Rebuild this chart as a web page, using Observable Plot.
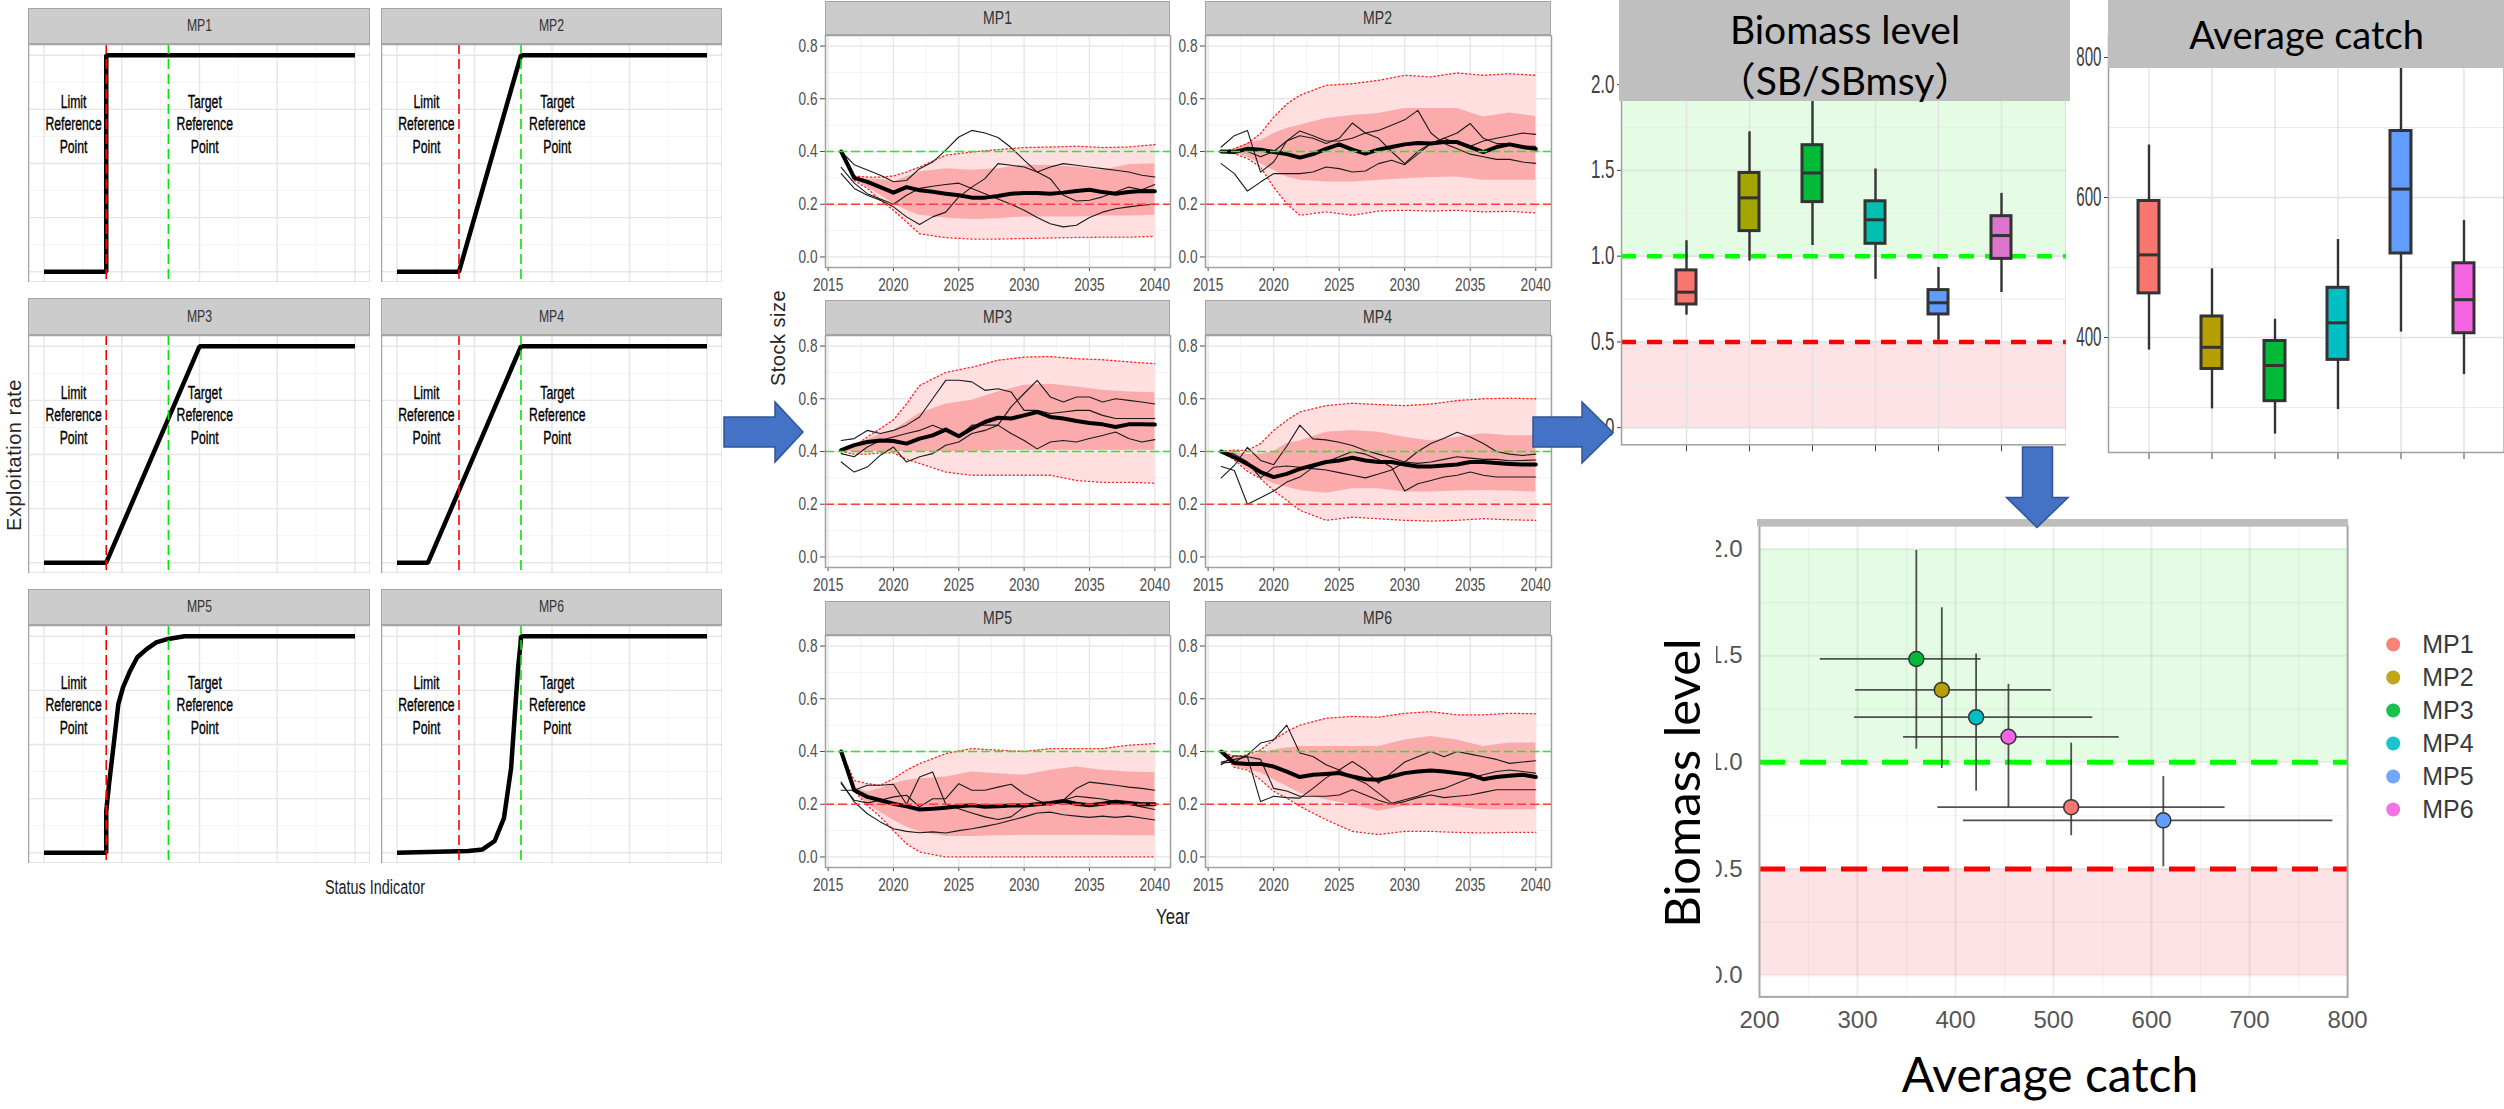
<!DOCTYPE html>
<html>
<head>
<meta charset="utf-8">
<script src="https://cdn.jsdelivr.net/npm/d3@7"></script>
<script src="https://cdn.jsdelivr.net/npm/@observablehq/plot@0.6"></script>
<style>
html,body{margin:0;padding:0;background:#fff;}
#root{position:relative;width:2504px;height:1109px;overflow:hidden;background:#fff;}
</style>
</head>
<body>
<div id="root"></div>
<script>
// ================= DATA =================
const MPS = ["MP1","MP2","MP3","MP4","MP5","MP6"];

// --- harvest control rules (status indicator -> exploitation rate)
const limitRef = 0.2, targetRef = 0.4;
const hcr1X = [0, 0.2, 0.2, 1],            hcr1Y = [0, 0, 1, 1];
const hcr2X = [0, 0.2, 0.4, 1],            hcr2Y = [0, 0, 1, 1];
const hcr3X = [0, 0.2, 0.5, 1],            hcr3Y = [0, 0, 1, 1];
const hcr4X = [0, 0.1, 0.4, 1],            hcr4Y = [0, 0, 1, 1];
const hcr5X = [0, 0.2, 0.2, 0.209, 0.224, 0.239, 0.254, 0.277, 0.30, 0.33, 0.361, 0.399, 0.452, 1];
const hcr5Y = [0, 0, 0.19, 0.316, 0.50, 0.687, 0.764, 0.841, 0.903, 0.941, 0.972, 0.988, 1, 1];
const hcr6X = [0, 0.23, 0.276, 0.315, 0.345, 0.368, 0.383, 0.391, 0.398, 0.40, 1];
const hcr6Y = [0, 0.008, 0.015, 0.054, 0.16, 0.39, 0.70, 0.86, 0.96, 1, 1];
const hcrLabels = ["Limit\nReference\nPoint", "Target\nReference\nPoint"];
const hcrLabelX = [0.095, 0.517];
const hcrLabelY = 0.686;
const hcrGridMajor = [0, 0.25, 0.5, 0.75, 1];
const hcrGridMinor = [0.125, 0.375, 0.625, 0.875];

// --- stock size projections
const years = [2016,2017,2018,2019,2020,2021,2022,2023,2024,2025,2026,2027,2028,2029,2030,2031,2032,2033,2034,2035,2036,2037,2038,2039,2040];
const bandYears = [2016,2017,2018,2019,2020,2021,2022,2024,2026,2028,2030,2032,2034,2036,2038,2040];
const stockXTicks = [2015,2020,2025,2030,2035,2040];
const stockXMinor = [2017.5,2022.5,2027.5,2032.5,2037.5];
const stockYTicks = [0,0.2,0.4,0.6,0.8];
const stockYMinor = [0.1,0.3,0.5,0.7];
const stockTarget = 0.4, stockLimit = 0.2;

const mp1Median  = [.40,.30,.285,.265,.244,.265,.253,.247,.24,.234,.225,.225,.231,.24,.243,.243,.24,.244,.25,.255,.246,.24,.246,.25,.249];
const mp1OuterHi = [.40,.307,.303,.303,.307,.322,.341,.386,.398,.407,.415,.417,.42,.415,.417,.426];
const mp1OuterLo = [.40,.29,.26,.215,.177,.133,.088,.073,.068,.068,.07,.072,.074,.075,.075,.078];
const mp1InnerHi = [.40,.305,.295,.295,.284,.303,.322,.335,.329,.335,.348,.347,.34,.329,.35,.354];
const mp1InnerLo = [.40,.297,.265,.234,.202,.177,.158,.148,.142,.145,.152,.152,.152,.155,.155,.158];
const mp1Worm1 = [.40,.35,.33,.31,.285,.29,.335,.36,.405,.455,.48,.47,.453,.415,.367,.322,.297,.234,.212,.215,.228,.246,.265,.255,.275];
const mp1Worm2 = [.34,.28,.24,.22,.20,.234,.26,.268,.275,.28,.26,.24,.22,.20,.177,.15,.126,.114,.12,.15,.17,.183,.19,.196,.20];
const mp1Worm3 = [.316,.26,.234,.215,.19,.152,.123,.152,.17,.228,.265,.297,.354,.348,.341,.322,.341,.354,.348,.341,.335,.329,.322,.31,.303];

const mp2Median  = [.40,.398,.41,.407,.398,.39,.377,.39,.41,.427,.407,.392,.407,.417,.427,.432,.43,.436,.436,.417,.398,.417,.427,.417,.41];
const mp2OuterHi = [.40,.41,.43,.468,.53,.58,.613,.651,.657,.67,.689,.683,.698,.689,.695,.689];
const mp2OuterLo = [.40,.392,.373,.341,.265,.202,.158,.171,.158,.174,.177,.174,.177,.171,.173,.167];
const mp2InnerHi = [.40,.41,.43,.442,.468,.487,.50,.525,.537,.544,.563,.563,.563,.531,.546,.533];
const mp2InnerLo = [.40,.395,.379,.354,.329,.303,.291,.284,.284,.291,.297,.301,.303,.291,.291,.291];
const mp2Worm1 = [.417,.46,.48,.322,.36,.44,.478,.46,.44,.44,.45,.47,.48,.50,.52,.556,.47,.43,.41,.39,.38,.37,.37,.36,.355];
const mp2Worm2 = [.354,.316,.25,.284,.316,.316,.316,.322,.341,.335,.322,.326,.354,.367,.35,.39,.43,.45,.43,.42,.44,.45,.46,.47,.465];
const mp2Worm3 = [.40,.40,.40,.38,.40,.44,.46,.45,.43,.45,.508,.47,.45,.40,.354,.40,.43,.45,.47,.506,.45,.43,.43,.42,.42];

const mp3Median  = [.405,.424,.436,.442,.44,.43,.449,.461,.483,.458,.487,.512,.528,.525,.537,.55,.531,.525,.516,.508,.503,.493,.503,.503,.502];
const mp3OuterHi = [.405,.42,.455,.487,.52,.58,.65,.70,.72,.746,.758,.76,.752,.748,.74,.733];
const mp3OuterLo = [.40,.39,.39,.395,.395,.37,.355,.322,.31,.31,.31,.31,.29,.283,.283,.28];
const mp3InnerHi = [.405,.425,.445,.465,.48,.512,.544,.58,.594,.626,.651,.655,.645,.632,.626,.623];
const mp3InnerLo = [.40,.40,.40,.40,.40,.40,.40,.40,.40,.405,.405,.405,.405,.405,.405,.405];
const mp3Worm1 = [.442,.449,.48,.468,.48,.50,.531,.60,.67,.67,.664,.632,.638,.626,.556,.556,.544,.55,.556,.556,.537,.525,.525,.525,.525];
const mp3Worm2 = [.36,.322,.341,.386,.417,.36,.38,.392,.424,.436,.468,.48,.50,.569,.62,.67,.607,.588,.607,.607,.588,.60,.594,.588,.58];
const mp3Worm3 = [.392,.38,.417,.442,.455,.468,.48,.50,.48,.455,.50,.50,.50,.468,.442,.41,.436,.442,.436,.449,.461,.474,.449,.436,.445];

const mp4Median  = [.40,.378,.353,.322,.303,.315,.334,.347,.36,.366,.376,.366,.36,.36,.351,.343,.343,.347,.351,.36,.36,.356,.353,.351,.351];
const mp4OuterHi = [.40,.405,.404,.43,.48,.518,.55,.574,.583,.578,.574,.58,.593,.60,.602,.60];
const mp4OuterLo = [.40,.368,.325,.297,.252,.215,.177,.139,.151,.145,.139,.136,.139,.145,.141,.139];
const mp4InnerHi = [.40,.395,.39,.39,.40,.43,.44,.473,.48,.473,.454,.44,.454,.467,.46,.46];
const mp4InnerLo = [.40,.372,.334,.303,.278,.265,.252,.242,.259,.259,.246,.246,.25,.252,.25,.246];
const mp4Worm1 = [.30,.347,.416,.366,.35,.42,.50,.448,.444,.435,.423,.404,.39,.375,.36,.355,.36,.37,.38,.375,.37,.37,.365,.366,.368];
const mp4Worm2 = [.343,.328,.20,.225,.25,.284,.303,.34,.36,.38,.40,.39,.37,.34,.25,.278,.29,.303,.31,.322,.31,.303,.303,.303,.303];
const mp4Worm3 = [.40,.39,.36,.30,.34,.345,.34,.335,.33,.32,.31,.30,.315,.33,.36,.40,.43,.45,.473,.455,.43,.40,.39,.385,.39];

const mp5Median  = [.40,.253,.228,.215,.202,.192,.18,.183,.187,.192,.196,.19,.192,.195,.195,.20,.205,.212,.202,.196,.202,.209,.205,.20,.20];
const mp5OuterHi = [.40,.29,.278,.272,.297,.329,.354,.392,.411,.405,.40,.411,.411,.411,.424,.43];
const mp5OuterLo = [.40,.25,.195,.152,.10,.05,.019,0,0,0,0,0,0,0,0,0];
const mp5InnerHi = [.40,.265,.246,.26,.278,.29,.297,.303,.322,.316,.31,.329,.341,.329,.322,.319];
const mp5InnerLo = [.40,.252,.20,.17,.139,.114,.095,.078,.078,.08,.082,.082,.082,.082,.08,.08];
const mp5Worm1 = [.284,.209,.164,.133,.107,.097,.092,.095,.091,.10,.107,.116,.126,.139,.152,.167,.17,.16,.155,.15,.155,.15,.155,.148,.14];
const mp5Worm2 = [.253,.253,.272,.272,.276,.20,.303,.322,.20,.183,.167,.152,.142,.152,.19,.196,.20,.215,.23,.225,.22,.21,.20,.19,.18];
const mp5Worm3 = [.278,.215,.205,.215,.228,.234,.19,.221,.221,.278,.253,.253,.265,.276,.24,.215,.196,.215,.26,.284,.278,.272,.265,.26,.253];

const mp6Median  = [.40,.356,.353,.353,.343,.324,.303,.312,.315,.318,.305,.295,.293,.305,.318,.324,.328,.324,.318,.312,.295,.303,.308,.312,.303];
const mp6OuterHi = [.40,.381,.387,.406,.444,.476,.50,.526,.533,.53,.545,.551,.539,.539,.545,.543];
const mp6OuterLo = [.40,.34,.33,.293,.249,.223,.192,.141,.097,.085,.097,.097,.093,.091,.093,.093];
const mp6InnerHi = [.40,.378,.381,.394,.406,.413,.419,.419,.419,.419,.444,.457,.444,.419,.432,.432];
const mp6InnerLo = [.40,.343,.333,.318,.293,.268,.242,.217,.198,.173,.192,.198,.189,.179,.179,.179];
const mp6Worm1 = [.356,.36,.387,.432,.444,.50,.394,.381,.35,.33,.30,.28,.242,.204,.217,.23,.249,.26,.28,.30,.312,.324,.33,.324,.318];
const mp6Worm2 = [.35,.384,.38,.21,.23,.225,.223,.26,.30,.33,.362,.33,.28,.32,.36,.38,.40,.38,.40,.39,.38,.37,.355,.36,.365];
const mp6Worm3 = [.36,.37,.38,.37,.26,.25,.23,.23,.23,.235,.255,.235,.215,.20,.21,.225,.235,.225,.23,.235,.245,.255,.255,.255,.255];

// --- performance statistics (whisker low, Q1, median, Q3, whisker high)
const biomassLo  = [0.656, 0.971, 1.062, 0.865, 0.510, 0.788];
const biomassQ1  = [0.718, 1.146, 1.315, 1.072, 0.660, 0.984];
const biomassMed = [0.790, 1.340, 1.485, 1.212, 0.728, 1.120];
const biomassQ3  = [0.917, 1.485, 1.647, 1.320, 0.802, 1.233];
const biomassHi  = [1.090, 1.725, 1.994, 1.508, 0.934, 1.366];
const catchLo  = [382, 298, 262, 297, 408, 347];
const catchQ1  = [463, 355, 309, 368, 520, 406];
const catchMed = [518, 386, 360, 421, 612, 454];
const catchQ3  = [595, 430, 395, 471, 695, 506];
const catchHi  = [675, 498, 426, 540, 785, 567];
const biomassTarget = 1.0, biomassLimit = 0.5;

const mpColors      = ["#F8766D","#B79F00","#00BA38","#00BFC4","#619CFF","#F564E3"];
const biomassColors = ["#F8766D","#A3A500","#00BA38","#00BFB0","#619CFF","#DC74CC"];

// ================= HELPERS =================
const ARIAL  = '"Liberation Sans",Arial,sans-serif';
const CAL    = 'Lato,"Noto Sans CJK JP",sans-serif';
const root = document.getElementById("root");

function put(el, left, top) {
  el.style.position = "absolute";
  el.style.left = left + "px";
  el.style.top = top + "px";
  root.appendChild(el);
  return el;
}
function box(left, top, w, h, css) {
  const d = document.createElement("div");
  Object.assign(d.style, css || {});
  d.style.width = w + "px"; d.style.height = h + "px";
  return put(d, left, top);
}
function label(text, cx, cy, css, rotate, sx) {
  const d = document.createElement("div");
  d.textContent = text;
  Object.assign(d.style, {whiteSpace: "pre", lineHeight: "1",
    transform: "translate(-50%,-50%)" + (rotate ? ` rotate(${rotate}deg)` : "") + (sx ? ` scaleX(${sx})` : "")}, css);
  return put(d, cx, cy);
}
function strip(x0, x1, y0, y1, text, size, sx) {
  const d = box(x0, y0, x1 - x0, y1 - y0, {
    background: "#cccccc", border: "1px solid #a5a5a5", boxSizing: "border-box",
    display: "flex", alignItems: "center", justifyContent: "center",
    fontFamily: ARIAL, fontSize: size + "px", color: "#333"});
  const s = document.createElement("span");
  s.textContent = text;
  s.style.display = "inline-block";
  s.style.transform = `scaleX(${sx})`;
  d.appendChild(s);
  return d;
}
// horizontally condense every text of a Plot svg about its own x anchor (narrow-font look)
function condense(svg, s) {
  svg.querySelectorAll("text").forEach(t => {
    const xv = parseFloat(t.getAttribute("x"));
    const cx = isFinite(xv) ? xv : 0;
    const tr = t.getAttribute("transform") || "";
    t.setAttribute("transform", `${tr} translate(${cx},0) scale(${s},1) translate(${-cx},0)`.trim());
  });
  return svg;
}

// ================= LEFT: HCR facets =================
const hcrXs = [hcr1X, hcr2X, hcr3X, hcr4X, hcr5X, hcr6X];
const hcrYs = [hcr1Y, hcr2Y, hcr3Y, hcr4Y, hcr5Y, hcr6Y];
const hcrCols = [[28, 370], [381, 722]];
const hcrRows = [[44, 282], [335, 573], [625, 863]];
const hcrStrips = [[8, 44], [298, 335], [589, 625]];

MPS.forEach((mp, k) => {
  const [x0, x1] = hcrCols[k % 2];
  const [y0, y1] = hcrRows[Math.floor(k / 2)];
  const [s0, s1] = hcrStrips[Math.floor(k / 2)];
  const pts = hcrXs[k].map((x, i) => ({x, y: hcrYs[k][i]}));
  const svg = Plot.plot({
    width: x1 - x0, height: y1 - y0, margin: 0,
    x: {domain: [-0.05, 1.05], axis: null},
    y: {domain: [-0.05, 1.05], axis: null},
    style: {fontFamily: ARIAL, background: "white"},
    marks: [
      Plot.ruleX(hcrGridMinor, {stroke: "#f4f4f4", strokeWidth: 1}),
      Plot.ruleY(hcrGridMinor, {stroke: "#f4f4f4", strokeWidth: 1}),
      Plot.ruleX(hcrGridMajor, {stroke: "#e6e6e6", strokeWidth: 1.4}),
      Plot.ruleY(hcrGridMajor, {stroke: "#e6e6e6", strokeWidth: 1.4}),
      Plot.line(pts, {x: "x", y: "y", stroke: "#000", strokeWidth: 4.5, strokeLinecap: "butt", strokeLinejoin: "miter"}),
      Plot.ruleX([limitRef], {stroke: "#ff0000", strokeWidth: 1.6, strokeDasharray: "10,5"}),
      Plot.ruleX([targetRef], {stroke: "#00e600", strokeWidth: 1.6, strokeDasharray: "10,5"}),
      Plot.text(hcrLabels, {x: (d, i) => hcrLabelX[i], y: () => hcrLabelY, text: d => d,
        lineHeight: 1.25, fontSize: 18, fill: "#000", stroke: "#000", strokeWidth: 0.35}),
      Plot.frame({stroke: "#a3a3a3", strokeWidth: 1.5})
    ]
  });
  put(condense(svg, 0.68), x0, y0);
  strip(x0, x1, s0, s1, mp, 17, 0.72);
});
label("Exploitation rate", 14, 455, {fontFamily: ARIAL, fontSize: "20px", color: "#262626", letterSpacing: "0.5px"}, -90);
label("Status Indicator", 375, 887, {fontFamily: ARIAL, fontSize: "20px", color: "#1a1a1a"}, 0, 0.72);

// ================= MIDDLE: stock size facets =================
const stockSeries = [
  {median: mp1Median, oHi: mp1OuterHi, oLo: mp1OuterLo, iHi: mp1InnerHi, iLo: mp1InnerLo, worms: [mp1Worm1, mp1Worm2, mp1Worm3]},
  {median: mp2Median, oHi: mp2OuterHi, oLo: mp2OuterLo, iHi: mp2InnerHi, iLo: mp2InnerLo, worms: [mp2Worm1, mp2Worm2, mp2Worm3]},
  {median: mp3Median, oHi: mp3OuterHi, oLo: mp3OuterLo, iHi: mp3InnerHi, iLo: mp3InnerLo, worms: [mp3Worm1, mp3Worm2, mp3Worm3]},
  {median: mp4Median, oHi: mp4OuterHi, oLo: mp4OuterLo, iHi: mp4InnerHi, iLo: mp4InnerLo, worms: [mp4Worm1, mp4Worm2, mp4Worm3]},
  {median: mp5Median, oHi: mp5OuterHi, oLo: mp5OuterLo, iHi: mp5InnerHi, iLo: mp5InnerLo, worms: [mp5Worm1, mp5Worm2, mp5Worm3]},
  {median: mp6Median, oHi: mp6OuterHi, oLo: mp6OuterLo, iHi: mp6InnerHi, iLo: mp6InnerLo, worms: [mp6Worm1, mp6Worm2, mp6Worm3]}
];
const stCols = [[825, 1170], [1205, 1551]];
const stRows = [[35, 267], [335, 567], [635, 867]];
const stStrips = [[1, 35], [300, 335], [601, 635]];

MPS.forEach((mp, k) => {
  const s = stockSeries[k];
  const [x0, x1] = stCols[k % 2];
  const [y0, y1] = stRows[Math.floor(k / 2)];
  const [s0, s1] = stStrips[Math.floor(k / 2)];
  const band = bandYears.map((year, i) => ({year, oLo: s.oLo[i], oHi: s.oHi[i], iLo: s.iLo[i], iHi: s.iHi[i]}));
  const med = years.map((year, i) => ({year, v: s.median[i]}));
  const worms = s.worms.flatMap((w, j) => years.map((year, i) => ({year, v: w[i], run: j})));
  const ML = 45, MB = 32, MR = 22;
  const svg = Plot.plot({
    width: x1 - x0 + ML + MR, height: y1 - y0 + MB,
    marginLeft: ML, marginRight: MR, marginTop: 0, marginBottom: MB,
    style: {fontFamily: ARIAL, fontSize: "18px", color: "#4d4d4d", background: "transparent"},
    x: {domain: [2014.8, 2041.2], ticks: stockXTicks, tickFormat: d => String(d), tickSize: 4, tickPadding: 7, label: null},
    y: {domain: [-0.04, 0.84], ticks: stockYTicks, tickFormat: d => d.toFixed(1), tickSize: 5, tickPadding: 3, label: null},
    marks: [
      Plot.frame({fill: "white"}),
      Plot.ruleX(stockXMinor, {stroke: "#f3f3f3", strokeWidth: 1}),
      Plot.ruleY(stockYMinor, {stroke: "#f3f3f3", strokeWidth: 1}),
      Plot.ruleX(stockXTicks, {stroke: "#e5e5e5", strokeWidth: 1.3}),
      Plot.ruleY(stockYTicks, {stroke: "#e5e5e5", strokeWidth: 1.3}),
      Plot.areaY(band, {x: "year", y1: "oLo", y2: "oHi", fill: "#ffdfdf"}),
      Plot.areaY(band, {x: "year", y1: "iLo", y2: "iHi", fill: "#fbabab"}),
      Plot.lineY(band, {x: "year", y: "oHi", stroke: "#ff2020", strokeWidth: 1.3, strokeDasharray: "1.2,2.8"}),
      Plot.lineY(band, {x: "year", y: "oLo", stroke: "#ff2020", strokeWidth: 1.3, strokeDasharray: "1.2,2.8"}),
      Plot.line(worms, {x: "year", y: "v", z: "run", stroke: "#1a1a1a", strokeWidth: 1.1}),
      Plot.line(med, {x: "year", y: "v", stroke: "#000", strokeWidth: 4}),
      Plot.ruleY([stockTarget], {stroke: "#22ee22", strokeWidth: 1.6, strokeDasharray: "9,4"}),
      Plot.ruleY([stockLimit], {stroke: "#ff3a3a", strokeWidth: 1.6, strokeDasharray: "9,4"}),
      Plot.frame({stroke: "#a0a0a0", strokeWidth: 1.5})
    ]
  });
  put(condense(svg, 0.76), x0 - ML, y0);
  strip(x0, x1, s0, s1, mp, 18, 0.78);
});
label("Stock size", 778, 338, {fontFamily: ARIAL, fontSize: "20px", color: "#262626", letterSpacing: "0.5px"}, -90);
label("Year", 1173, 917, {fontFamily: ARIAL, fontSize: "22px", color: "#1a1a1a"}, 0, 0.76);

// ================= RIGHT TOP: boxplots =================
const biomassStats = MPS.map((mp, i) => ({mp, lo: biomassLo[i], q1: biomassQ1[i], med: biomassMed[i], q3: biomassQ3[i], hi: biomassHi[i]}));
const catchStats = MPS.map((mp, i) => ({mp, lo: catchLo[i], q1: catchQ1[i], med: catchMed[i], q3: catchQ3[i], hi: catchHi[i]}));

function boxPlot(stats, colors, o) {
  const svg = Plot.plot({
    width: o.x1 - o.x0 + o.ML, height: o.y1 - o.y0 + o.MB,
    marginLeft: o.ML, marginRight: 0, marginTop: 0, marginBottom: o.MB,
    style: {fontFamily: ARIAL, fontSize: o.fs + "px", color: "#404040", background: "transparent"},
    x: {type: "band", domain: MPS, paddingInner: o.pi, paddingOuter: o.po, tickSize: 7, tickFormat: () => "", label: null},
    y: {domain: o.yDomain, ticks: o.yTicks, tickFormat: o.fmt, tickSize: 4, tickPadding: 3, label: null},
    color: {domain: MPS, range: colors},
    marks: [
      Plot.frame({fill: "white"}),
      ...(o.bands || []),
      Plot.ruleY(o.yMinor, {stroke: "#ececec", strokeWidth: 1.2}),
      Plot.ruleY(o.yTicks, {stroke: "#e2e2e2", strokeWidth: 1.6}),
      Plot.ruleX(MPS, {x: d => d, stroke: "#e2e2e2", strokeWidth: 1.4}),
      ...(o.refs || []),
      Plot.ruleX(stats, {x: "mp", y1: "lo", y2: "hi", stroke: "#333", strokeWidth: 2.4}),
      Plot.barY(stats, {x: "mp", y1: "q1", y2: "q3", fill: "mp", stroke: "#333", strokeWidth: 3}),
      Plot.tickY(stats, {x: "mp", y: "med", stroke: "#333", strokeWidth: 3}),
      Plot.frame({stroke: "#a0a0a0", strokeWidth: 1.5})
    ]
  });
  put(condense(svg, o.sx), o.x0 - o.ML, o.y0);
}

boxPlot(biomassStats, biomassColors, {
  x0: 1621, x1: 2066, y0: 66.5, y1: 443.8, ML: 50, MB: 12, pi: 0.677, po: 0.84, fs: 25, sx: 0.68,
  yDomain: [-0.1, 2.1], yTicks: [0, 0.5, 1, 1.5, 2], yMinor: [0.25, 0.75, 1.25, 1.75], fmt: d => d.toFixed(1),
  bands: [
    Plot.barY([{a: biomassTarget, b: 2.1}], {y1: "a", y2: "b", fill: "#e3fce3"}),
    Plot.barY([{a: 0, b: biomassLimit}], {y1: "a", y2: "b", fill: "#fde3e5"})
  ],
  refs: [
    Plot.ruleY([biomassTarget], {stroke: "#00ff00", strokeWidth: 4.5, strokeDasharray: "15,11"}),
    Plot.ruleY([biomassLimit], {stroke: "#ff0000", strokeWidth: 4.5, strokeDasharray: "15,11"})
  ]
});
boxPlot(catchStats, mpColors, {
  x0: 2108.3, x1: 2503.9, y0: 35.7, y1: 451.7, ML: 50, MB: 12, pi: 0.67, po: 0.435, fs: 27, sx: 0.56,
  yDomain: [235.7, 830], yTicks: [400, 600, 800], yMinor: [300, 500, 700], fmt: d => String(d)
});
// header strips pasted on top
box(1619.3, 0, 2070.5 - 1619.3, 100.7, {background: "#bfbfbf"});
label("Biomass level", 1845, 28.5, {fontFamily: CAL, fontSize: "39px", color: "#000"});
label("（SB/SBmsy）", 1845, 80, {fontFamily: CAL, fontSize: "39px", color: "#000"});
box(2108.3, 0, 2504 - 2108.3, 67.7, {background: "#bfbfbf"});
label("Average catch", 2306.5, 34, {fontFamily: CAL, fontSize: "38px", color: "#000"});

// ================= RIGHT BOTTOM: trade-off scatter =================
const scatter = MPS.map((mp, i) => ({mp, cLo: catchLo[i], cMed: catchMed[i], cHi: catchHi[i], bLo: biomassLo[i], bMed: biomassMed[i], bHi: biomassHi[i]}));
{
  const x0 = 1758.5, x1 = 2346.6, y0 = 525.3, y1 = 996.7, ML = 50, MR = 20, MB = 45;
  const svg = Plot.plot({
    width: x1 - x0 + ML + MR, height: y1 - y0 + MB,
    marginLeft: ML, marginRight: MR, marginTop: 0, marginBottom: MB,
    style: {fontFamily: ARIAL, fontSize: "24px", color: "#555", background: "transparent"},
    x: {domain: [200, 800], ticks: [200, 300, 400, 500, 600, 700, 800], tickSize: 0, tickPadding: 14, label: null},
    y: {domain: [-0.1, 2.111], ticks: [0, 0.5, 1, 1.5, 2], tickFormat: d => d.toFixed(1), tickSize: 0, tickPadding: 17, label: null},
    color: {domain: MPS, range: mpColors},
    marks: [
      Plot.frame({fill: "white"}),
      Plot.barY([{a: biomassTarget, b: 2}], {y1: "a", y2: "b", fill: "#e3fce3"}),
      Plot.barY([{a: 0, b: biomassLimit}], {y1: "a", y2: "b", fill: "#fde3e5"}),
      Plot.ruleX([250, 350, 450, 550, 650, 750], {stroke: "#000", strokeOpacity: 0.035, strokeWidth: 1.5}),
      Plot.ruleY([0.25, 0.75, 1.25, 1.75], {stroke: "#000", strokeOpacity: 0.035, strokeWidth: 1.5}),
      Plot.ruleX([300, 400, 500, 600, 700], {stroke: "#000", strokeOpacity: 0.07, strokeWidth: 2}),
      Plot.ruleY([0, 0.5, 1, 1.5, 2], {stroke: "#000", strokeOpacity: 0.06, strokeWidth: 2}),
      Plot.ruleY([biomassTarget], {stroke: "#00ff00", strokeWidth: 5, strokeDasharray: "26,15"}),
      Plot.ruleY([biomassLimit], {stroke: "#ff0000", strokeWidth: 5, strokeDasharray: "26,15"}),
      Plot.ruleX(scatter, {x: "cMed", y1: "bLo", y2: "bHi", stroke: "#333", strokeWidth: 1.8, strokeOpacity: 0.85}),
      Plot.ruleY(scatter, {y: "bMed", x1: "cLo", x2: "cHi", stroke: "#333", strokeWidth: 1.8, strokeOpacity: 0.85}),
      Plot.dot(scatter, {x: "cMed", y: "bMed", r: 7.5, fill: "mp", stroke: "#333", strokeWidth: 1.5}),
      Plot.frame({stroke: "#a8a8a8", strokeWidth: 2})
    ]
  });
  put(svg, x0 - ML, y0);
  box(1757, 519, 2348 - 1757, 6.5, {background: "#bdbdbd"});
  box(1600, 530, 1716 - 1600, 470, {background: "#fff"});
  label("Biomass level", 1681, 783, {fontFamily: CAL, fontSize: "49px", color: "#000"}, -90);
  label("Average catch", 2050, 1074, {fontFamily: CAL, fontSize: "48px", color: "#000"});
}
// legend
{
  const svg = Plot.plot({
    width: 120, height: 250, marginLeft: 12.7, marginRight: 0, marginTop: 0, marginBottom: 0,
    x: {domain: [0, 1], range: [12.7, 120], axis: null},
    y: {type: "point", domain: MPS, range: [25.6, 227.4], axis: null},
    color: {domain: MPS, range: mpColors},
    style: {fontFamily: ARIAL, fontSize: "25px", color: "#333", background: "transparent"},
    marks: [
      Plot.dot(MPS, {x: () => 0, y: d => d, r: 7, fill: d => d, fillOpacity: 0.9}),
      Plot.text(MPS, {x: () => 0, y: d => d, text: d => d, dx: 29, textAnchor: "start", fill: "#3a3a3a"})
    ]
  });
  put(svg, 2380, 600);
}

// ================= ARROWS (annotations) =================
{
  const a = d3.create("svg").attr("width", 2504).attr("height", 1109)
    .style("position", "absolute").style("left", "0px").style("top", "0px").style("pointer-events", "none");
  const arrows = [
    "724,417 775,417 775,402 803,432 775,462 775,447 724,447",
    "1533,417 1582,417 1582,402 1613,432.5 1582,463 1582,447 1533,447",
    "2022.5,447 2052.5,447 2052.5,497.6 2068,497.6 2037,527.5 2006.5,497.6 2022.5,497.6"
  ];
  a.selectAll("polygon").data(arrows).join("polygon")
    .attr("points", d => d).attr("fill", "#4472C4").attr("stroke", "#2F5597").attr("stroke-width", 1.5);
  root.appendChild(a.node());
}
</script>
</body>
</html>
